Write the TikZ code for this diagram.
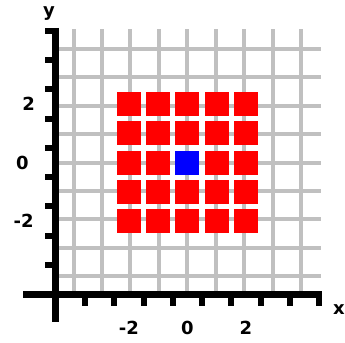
\documentclass[tikz,border=0pt]{standalone}
\usepackage{fontspec}
\setmainfont{DejaVu Sans}
\usepackage{xcolor}
\usepackage{tikz}

\definecolor{gridgray}{RGB}{192,192,192}
\tikzset{
  gridline/.style={draw=gridgray, line width=4pt, line cap=rect},
  axisline/.style={draw=black, line width=7pt},
  tickline/.style={draw=black, line width=6pt},
  axislabel/.style={font=\fontsize{18}{18}\selectfont\bfseries, inner sep=0pt},
  cellbox/.style={minimum size=24pt, inner sep=0pt, draw=none}
}

\begin{document}
\begin{tikzpicture}[x=29.25pt,y=29.25pt]
\useasboundingbox (-6.407,-6.137) rectangle (5.388,5.556);
\draw[gridline] (-4.5,-4.5) grid (4.5,4.5);
%
\foreach \i in {-2,...,2}
  \foreach \j in {-2,...,2}
    \node[cellbox, fill=red] (cell\i\j) at (\i,\j) {};
\node[cellbox, fill=blue] (center) at (0,0) {};
%
\draw[axisline] (-4.5,4.6) -- (-4.5,-5.44);
\draw[axisline] (-5.61,-4.5) -- (4.6,-4.5);
\foreach \k in {-3.5,-2.5,...,4.5} {
  \draw[tickline] (-4.5,\k) -- (-4.87,\k);
  \draw[tickline] (\k,-4.5) -- (\k,-4.92);
}
%
\node[axislabel] (ylab) at (-4.73,5.11) {y};
\node[axislabel] (xlab) at (5.18,-5.04) {x};
%
\node[axislabel] (ytwo) at (-5.43,2) {2};
\node[axislabel] (yzero) at (-5.64,0) {0};
\node[axislabel] (yminus) at (-5.60,-2) {-2};
\node[axislabel] (xminus) at (-2,-5.66) {-2};
\node[axislabel] (xzero) at (0,-5.66) {0};
\node[axislabel] (xtwo) at (2,-5.66) {2}; % labels
\end{tikzpicture}
\end{document}
